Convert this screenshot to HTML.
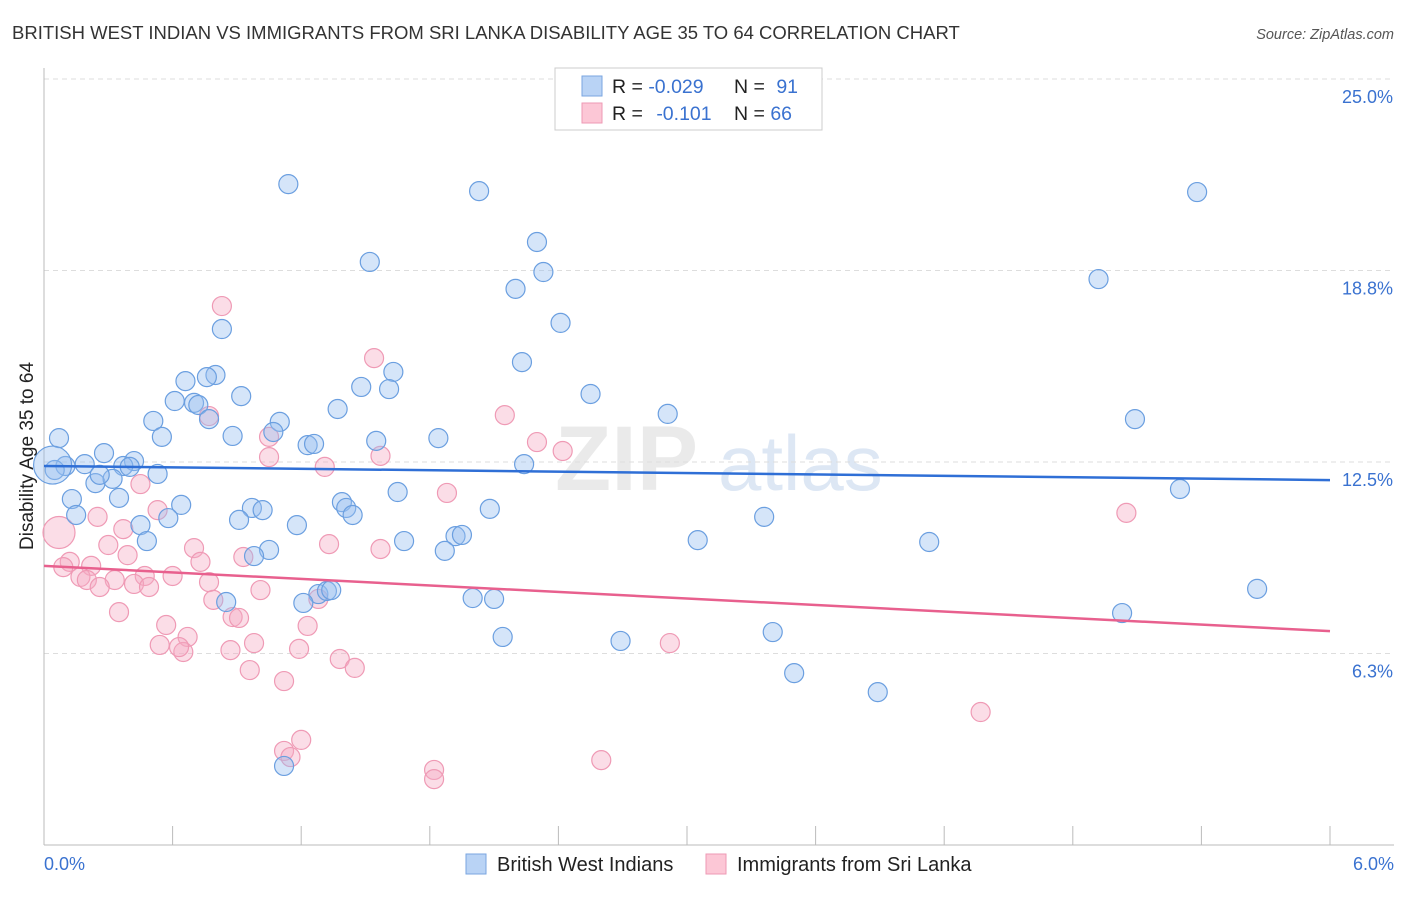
<!DOCTYPE html>
<html><head><meta charset="utf-8">
<style>
body{margin:0;background:#fff;font-family:"Liberation Sans",sans-serif;}
svg text{font-family:"Liberation Sans",sans-serif;}
</style></head>
<body>
<svg id="chart" width="1406" height="892" xmlns="http://www.w3.org/2000/svg">
<text x="12" y="39" font-size="18.5" fill="#333">BRITISH WEST INDIAN VS IMMIGRANTS FROM SRI LANKA DISABILITY AGE 35 TO 64 CORRELATION CHART</text>
<text x="1394" y="39" font-size="14.5" fill="#555" font-style="italic" text-anchor="end">Source: ZipAtlas.com</text>
<g>
<text x="555" y="490" font-size="92" fill="#ddd" font-family="Liberation Serif" font-weight="bold" opacity="0.6">ZIP</text>
<text x="718" y="490" font-size="78" fill="#c8d8ee" opacity="0.6">atlas</text>
</g>
<g id="grid"></g>
<g id="axes"></g>
<g id="pts"></g>
<g id="trend"></g>
<g>
<rect x="555" y="68" width="267" height="62" fill="#fff" stroke="#ccc"/>
<rect x="582" y="76" width="20" height="20" fill="#b9d3f5" stroke="#7aa6e0"/>
<rect x="582" y="103" width="20" height="20" fill="#fcc7d6" stroke="#ee9ab4"/>
<text x="612" y="93" font-size="19.5" fill="#222">R = <tspan fill="#3a72d0">-0.029</tspan></text>
<text x="734" y="93" font-size="19.5" fill="#222">N = <tspan fill="#3a72d0" dx="6">91</tspan></text>
<text x="612" y="120" font-size="19.5" fill="#222">R = <tspan fill="#3a72d0" dx="8">-0.101</tspan></text>
<text x="734" y="120" font-size="19.5" fill="#222">N = <tspan fill="#3a72d0">66</tspan></text>
</g>
<g>
<rect x="466" y="854" width="20" height="20" fill="#b9d3f5" stroke="#7aa6e0"/>
<text x="497" y="871" font-size="20" fill="#222">British West Indians</text>
<rect x="706" y="854" width="20" height="20" fill="#fcc7d6" stroke="#ee9ab4"/>
<text x="737" y="871" font-size="20" fill="#222">Immigrants from Sri Lanka</text>
</g>
<text transform="translate(33,456) rotate(-90)" font-size="19" fill="#222" text-anchor="middle">Disability Age 35 to 64</text>
</svg>
<script>
const yTicks=[25,18.75,12.5,6.25];
const yTickLabels=["25.0%","18.8%","12.5%","6.3%"];
const xTickValues=[0,0.6,1.2,1.8,2.4,3.0,3.6,4.2,4.8,5.4,6.0];
const xEndLabels=["0.0%","6.0%"];
const blueX=[1.14,2.03,5.38,2.30,1.52,2.33,2.20,4.92,2.41,0.83,2.23,1.63,0.66,0.80,0.76,1.48,1.61,0.92,2.55,0.61,0.70,0.72,1.37,0.51,0.77,1.10,2.91,5.09,1.07,0.07,0.55,0.88,1.55,1.84,1.23,1.26,0.28,0.42,0.19,0.10,0.37,0.40,2.24,0.05,0.53,0.24,0.32,0.26,1.65,0.13,0.35,1.39,0.64,1.41,5.30,2.08,0.15,0.97,1.02,1.44,0.45,0.58,0.91,1.18,3.36,0.48,1.68,1.92,1.95,3.05,4.13,1.87,1.05,0.98,5.66,1.28,1.32,1.34,1.21,0.85,2.00,2.10,5.03,2.14,2.69,3.40,3.50,3.89,1.12,0.04];
const blueY=[21.57,21.34,21.31,19.68,19.03,18.70,18.15,18.47,17.04,16.84,15.76,15.44,15.14,15.34,15.27,14.95,14.88,14.65,14.72,14.49,14.43,14.36,14.23,13.84,13.90,13.81,14.07,13.90,13.48,13.28,13.32,13.35,13.19,13.28,13.05,13.09,12.79,12.53,12.43,12.37,12.37,12.34,12.43,12.24,12.11,11.81,11.95,12.08,11.52,11.29,11.33,11.19,11.10,11.00,11.62,10.97,10.77,11.00,10.93,10.77,10.44,10.67,10.61,10.44,10.71,9.92,9.92,10.08,10.12,9.95,9.89,9.60,9.63,9.43,8.36,8.19,8.29,8.32,7.90,7.93,8.06,8.03,7.57,6.79,6.66,6.95,5.61,4.99,2.58,12.4];
const pinkX=[0.83,1.54,2.15,0.77,2.30,2.42,1.05,1.05,1.57,1.31,1.88,0.45,5.05,0.25,0.53,0.37,0.07,1.33,1.57,0.30,0.70,0.93,0.39,0.12,0.73,0.22,0.09,0.17,0.20,0.33,0.47,0.60,0.26,0.42,0.49,0.77,1.01,0.79,1.28,0.88,0.35,0.91,1.23,0.57,0.67,2.92,0.98,0.54,0.65,0.63,1.19,0.87,1.38,1.45,0.96,1.12,4.37,1.20,1.12,1.15,2.60,1.82,1.82];
const pinkY=[17.59,15.89,14.03,14.00,13.15,12.86,13.32,12.66,12.70,12.34,11.49,11.78,10.84,10.71,10.93,10.31,10.2,9.82,9.66,9.79,9.69,9.40,9.46,9.24,9.24,9.11,9.07,8.75,8.65,8.65,8.78,8.78,8.42,8.52,8.42,8.58,8.32,8.00,8.03,7.44,7.60,7.41,7.15,7.18,6.79,6.59,6.59,6.53,6.30,6.46,6.40,6.36,6.07,5.78,5.71,5.35,4.34,3.43,3.07,2.87,2.77,2.45,2.15];
const blueTrend=[12.37,11.91];
const pinkTrend=[9.11,6.98];

const NS="http://www.w3.org/2000/svg";
const X0=44,X1=1330,Y0=845,PXPCT=30.64;
function sx(v){return X0+(v/6)*(X1-X0);}
function sy(v){return Y0-v*PXPCT;}
function mk(tag,attrs,parent){const e=document.createElementNS(NS,tag);for(const k in attrs)e.setAttribute(k,attrs[k]);parent.appendChild(e);return e;}
const grid=document.getElementById('grid'),axes=document.getElementById('axes'),pts=document.getElementById('pts'),trend=document.getElementById('trend');
yTicks.forEach((t,i)=>{
  const l=mk('line',{x1:X0,x2:1394,y1:sy(t),y2:sy(t),stroke:'#ddd','stroke-dasharray':'5,4'},grid);
  
  
  const tx=mk('text',{x:1393,y:sy(t)+24,'font-size':18,fill:'#3a72d0','text-anchor':'end'},axes);
  tx.textContent=yTickLabels[i];
  
  
});
const ax=mk('line',{x1:X0,x2:X0,y1:68,y2:Y0,stroke:'#bbb'},axes);


const bx=mk('line',{x1:X0,x2:1394,y1:Y0,y2:Y0,stroke:'#bbb'},axes);


xTickValues.forEach(v=>{
  const t=mk('line',{x1:sx(v),x2:sx(v),y1:826,y2:Y0,stroke:'#bbb'},axes);
  
  
});
const xl0=mk('text',{x:44,y:870,'font-size':18,fill:'#3a72d0'},axes);xl0.textContent=xEndLabels[0];


const xl1=mk('text',{x:1394,y:870,'font-size':18,fill:'#3a72d0','text-anchor':'end'},axes);xl1.textContent=xEndLabels[1];


function drawPts(xs,ys,fill,stroke,name,bigIdx,bigR){
  xs.forEach((x,i)=>{
    const c=mk('circle',{cx:sx(x),cy:sy(ys[i]),r:i===bigIdx?bigR:9.5,fill:fill,stroke:stroke,'stroke-width':1.2},pts);
    
    
  });
}
drawPts(pinkX,pinkY,'rgba(246,170,196,0.4)','#ef9ab5','point-sri-lanka',16,16);
drawPts(blueX,blueY,'rgba(150,190,240,0.4)','#6b9fe0','point-british-west-indian',89,19);
const bl=mk('line',{x1:sx(0),y1:sy(blueTrend[0]),x2:sx(6),y2:sy(blueTrend[1]),stroke:'#2f6fd6','stroke-width':2.5},trend);


const pl=mk('line',{x1:sx(0),y1:sy(pinkTrend[0]),x2:sx(6),y2:sy(pinkTrend[1]),stroke:'#e8608e','stroke-width':2.5},trend);


</script>
</body></html>
